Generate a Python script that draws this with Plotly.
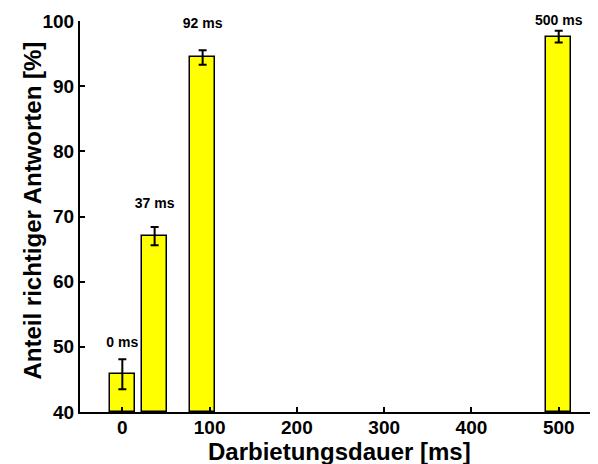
import plotly.graph_objects as go

durations = [0, 37, 92, 500]
accuracy = [45.8, 67.0, 94.4, 97.6]
errors = [2.3, 1.4, 1.1, 0.9]
bar_labels = ["0 ms", "37 ms", "92 ms", "500 ms"]
label_y = [50.5, 71.9, 99.4, 100.0]
x_ticks = [0, 100, 200, 300, 400, 500]
y_ticks = [40, 50, 60, 70, 80, 90, 100]
x_title = "Darbietungsdauer [ms]"
y_title = "Anteil richtiger Antworten [%]"

FONT = "Liberation Sans"

fig = go.Figure()
fig.add_trace(go.Bar(
    x=durations, y=[a - 40 for a in accuracy], base=40,
    width=29,
    marker=dict(color="#ffff00", line=dict(color="black", width=1.5)),
    error_y=dict(type="data", array=errors, color="black", thickness=2, width=4),
    cliponaxis=False,
))
fig.add_trace(go.Scatter(
    x=durations, y=label_y, mode="text",
    text=["<b>%s</b>" % t for t in bar_labels],
    textposition="middle center",
    textfont=dict(family=FONT, size=14, color="black"),
    cliponaxis=False, hoverinfo="skip",
))

# axis titles as annotations for precise placement
fig.add_annotation(xref="paper", yref="paper", x=0.5, y=0, yshift=-39,
                   xanchor="center", yanchor="middle", showarrow=False,
                   text="<b>%s</b>" % x_title,
                   font=dict(family=FONT, size=24, color="black"))
fig.add_annotation(xref="paper", yref="paper", x=0, y=0.5, xshift=-48, yshift=6,
                   xanchor="center", yanchor="middle", showarrow=False, textangle=-90,
                   text="<b>%s</b>" % y_title,
                   font=dict(family=FONT, size=24, color="black"))

fig.update_layout(
    width=590, height=456,
    margin=dict(l=72, r=0, t=13, b=52),
    plot_bgcolor="white", paper_bgcolor="white",
    showlegend=False,
    font=dict(family=FONT, color="black"),
    bargap=0,
)
fig.update_xaxes(
    range=[-48.5, 545], tickvals=x_ticks,
    ticktext=["<b>%d</b>" % v for v in x_ticks],
    tickfont=dict(family=FONT, size=19, color="black"),
    ticks="inside", ticklen=5, tickwidth=2, tickcolor="black",
    ticklabelstandoff=-3,
    showline=True, linecolor="black", linewidth=2,
    showgrid=False, zeroline=False, automargin=False,
)
fig.update_yaxes(
    range=[40, 100], tickvals=y_ticks,
    ticktext=["<b>%d</b>" % v for v in y_ticks],
    tickfont=dict(family=FONT, size=19, color="black"),
    ticks="inside", ticklen=5, tickwidth=2, tickcolor="black",
    showline=True, linecolor="black", linewidth=2,
    showgrid=False, zeroline=False, automargin=False,
)

fig.write_html("out.html")
